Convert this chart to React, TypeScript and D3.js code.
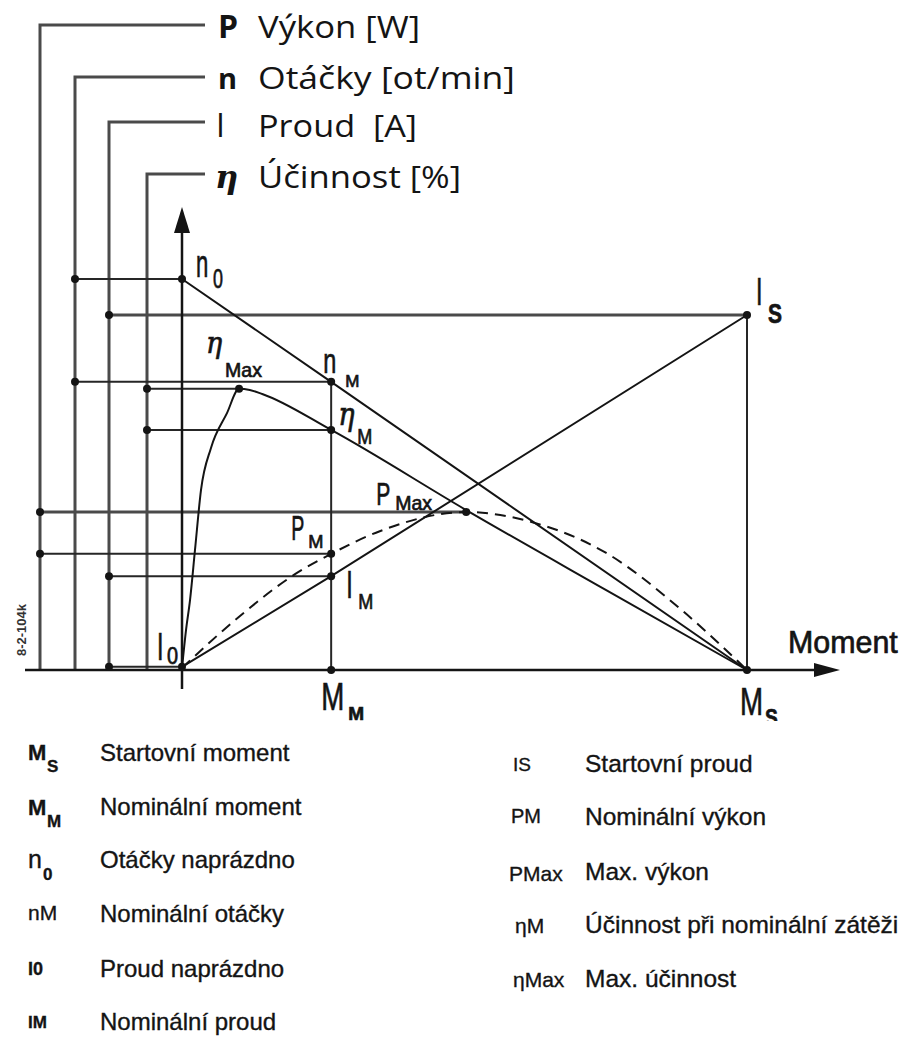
import React from "react";
import * as d3 from "d3";

// ---------- data (normalised units: moment 0..100, value 0..100) ----------
const M_NOM = 26.4;
const M_ETAMAX = 10.1;
const M_PMAX = 50.3;
const M_START = 100;

const N0 = 100;
const N_NOM = 73.7;
const I0 = 0.8;
const I_NOM = 24;
const I_START = 90.8;
const ETA_MAX = 71.9;
const ETA_NOM = 61.4;
const P_MAX = 40.4;
const P_NOM = 29.7;

const speedSeries: [number, number][] = [[0, N0], [M_NOM, N_NOM], [M_START, 0]];
const currentSeries: [number, number][] = [[0, I0], [M_NOM, I_NOM], [M_START, I_START]];
const etaSeries: [number, number][] = [
  [0, 0.5], [0.71, 10.2], [1.42, 17.9], [2.3, 30.7], [3.36, 46.0], [5.13, 56.8],
  [7.96, 65.7], [M_ETAMAX, ETA_MAX], [12.0, 71.6], [14.2, 70.6], [M_NOM, ETA_NOM],
  [50.3, 40.9], [75, 20.5], [M_START, 0],
];
const powerSeries: [number, number][] = [
  [0, 0.5], [10, 13.5], [20, 24.5], [M_NOM, P_NOM], [35, 35.5], [M_PMAX, P_MAX],
  [62, 37.8], [75, 30], [88.7, 15], [M_START, 0],
];

const topLegendKeys = ["P", "n", "I", "eta"];
const topLegendSymbols = ["P", "n", "I", "η"];
const topLegendTexts = ["Výkon [W]", "Otáčky [ot/min]", "Proud  [A]", "Účinnost [%]"];

const leftLegendDesc = [
  "Startovní moment", "Nominální moment", "Otáčky naprázdno",
  "Nominální otáčky", "Proud naprázdno", "Nominální proud",
];
const rightLegendDesc = [
  "Startovní proud", "Nominální výkon", "Max. výkon",
  "Účinnost při nominální zátěži", "Max. účinnost",
];

// ---------- layout ----------
const W = 901;
const H = 1037;
const X0 = 182;
const XS = 747;
const Y0 = 670;
const YTOP = 279;
const legendX: Record<string, number> = { P: 40, n: 75, I: 109, eta: 147 };
const legendTopY: Record<string, number> = { P: 25, n: 77, I: 122, eta: 174 };
const legendEndX = 205;
const legendBaselines = [38, 89, 137, 188];
const legendTextLen = [162, 257, 159, 203];

const SANS = "'Liberation Sans', Arial, sans-serif";
const CAL = "'Open Sans', 'Noto Sans', sans-serif";
const SERIF = "'DejaVu Serif', 'Liberation Serif', serif";
const INK = "#141414";
const GUIDE = "#4a4a4a";

const x = d3.scaleLinear().domain([0, 100]).range([X0, XS]);
const y = d3.scaleLinear().domain([0, 100]).range([Y0, YTOP]);

const straight = d3.line<[number, number]>().x((d) => x(d[0])).y((d) => y(d[1]));
const smooth = d3
  .line<[number, number]>()
  .x((d) => x(d[0]))
  .y((d) => y(d[1]))
  .curve(d3.curveMonotoneX);

type Part = { t: string; dx: number; dy: number; size: number; sx: number; w?: string; fam?: string; it?: boolean };

const Glyph = ({ px, py, p }: { px: number; py: number; p: Part }) => (
  <text
    transform={`translate(${px + p.dx},${py + p.dy}) scale(${p.sx},1)`}
    fontFamily={p.fam || SANS}
    fontSize={p.size}
    fontWeight={p.w || "normal"}
    fontStyle={p.it ? "italic" : "normal"}
    fill={INK}
    stroke={INK}
    strokeWidth={0.7}
  >
    {p.t}
  </text>
);

export default function App() {
  // reference levels: [legend axis, moment, value]
  const levels: [string, number, number][] = [
    ["n", 0, N0],
    ["I", M_START, I_START],
    ["n", M_NOM, N_NOM],
    ["eta", M_ETAMAX, ETA_MAX],
    ["eta", M_NOM, ETA_NOM],
    ["P", M_PMAX, P_MAX],
    ["P", M_NOM, P_NOM],
    ["I", M_NOM, I_NOM],
    ["I", 0, I0],
  ];

  const annotations: { at: [number, number]; parts: Part[] }[] = [
    { at: [0, N0], parts: [
      { t: "n", dx: 14, dy: -2, size: 38, sx: 0.58 },
      { t: "0", dx: 31, dy: 9, size: 28, sx: 0.64 },
    ] },
    { at: [M_ETAMAX, ETA_MAX], parts: [
      { t: "η", dx: -33, dy: -36, size: 30, sx: 0.9, fam: SERIF, it: true },
      { t: "Max", dx: -14, dy: -12, size: 21, sx: 0.93 },
    ] },
    { at: [M_NOM, N_NOM], parts: [
      { t: "n", dx: -8, dy: -9, size: 35, sx: 0.67 },
      { t: "M", dx: 14, dy: 5, size: 17, sx: 1 },
    ] },
    { at: [M_NOM, ETA_NOM], parts: [
      { t: "η", dx: 7, dy: -5, size: 32, sx: 0.85, fam: SERIF, it: true },
      { t: "M", dx: 26, dy: 14, size: 22, sx: 0.82 },
    ] },
    { at: [M_PMAX, P_MAX], parts: [
      { t: "P", dx: -90, dy: -7, size: 32, sx: 0.66 },
      { t: "Max", dx: -71, dy: -2, size: 21, sx: 0.93 },
    ] },
    { at: [M_NOM, P_NOM], parts: [
      { t: "P", dx: -40, dy: -14, size: 35, sx: 0.56 },
      { t: "M", dx: -23, dy: -6, size: 19, sx: 0.96 },
    ] },
    { at: [M_NOM, I_NOM], parts: [
      { t: "I", dx: 15, dy: 22, size: 39, sx: 0.6 },
      { t: "M", dx: 27, dy: 33, size: 22, sx: 0.82 },
    ] },
    { at: [0, I0], parts: [
      { t: "I", dx: -25, dy: -7, size: 39, sx: 0.6 },
      { t: "0", dx: -15, dy: -3, size: 24, sx: 0.83 },
    ] },
    { at: [M_NOM, 0], parts: [
      { t: "M", dx: -10, dy: 40, size: 39, sx: 0.71 },
      { t: "M", dx: 17, dy: 50, size: 19, sx: 1, w: "bold" },
    ] },
    { at: [M_START, 0], parts: [
      { t: "M", dx: -7, dy: 45, size: 39, sx: 0.71 },
      { t: "S", dx: 18, dy: 56, size: 24, sx: 0.8, w: "bold" },
    ] },
    { at: [M_START, I_START], parts: [
      { t: "I", dx: 9, dy: -10, size: 39, sx: 0.6 },
      { t: "S", dx: 21, dy: 8, size: 28, sx: 0.75, w: "bold" },
    ] },
  ];

  const dots: [number, number][] = [
    [x(0), y(N0)], [x(M_START), y(I_START)], [x(M_NOM), y(N_NOM)], [x(M_ETAMAX), y(ETA_MAX)],
    [x(M_NOM), y(ETA_NOM)], [x(M_PMAX), y(P_MAX)], [x(M_NOM), y(P_NOM)], [x(M_NOM), y(I_NOM)],
    [x(0), y(I0)], [x(M_NOM), y(0)], [x(M_START), y(0)],
  ];
  levels.forEach(([k, , v]) => dots.push([legendX[k], y(v)]));

  const leftSymRows = [761, 815, 868, 922, 977, 1030];
  const rightRows = [772, 825, 880, 933, 987];

  return (
    <svg
      width={W}
      height={H}
      viewBox={`0 0 ${W} ${H}`}
      style={{ position: "absolute", left: 0, top: 0, background: "#fff" }}
    >
      <defs>
        <clipPath id="chartClip">
          <rect x={0} y={0} width={W} height={721} />
        </clipPath>
      </defs>
      <rect x={0} y={0} width={W} height={H} fill="#fff" />

      <g clipPath="url(#chartClip)">
        {/* top legend brackets */}
        {topLegendKeys.map((k, i) => (
          <g key={k}>
            <path
              d={`M${legendX[k]},${Y0} V${legendTopY[k]} H${legendEndX}`}
              fill="none"
              stroke={GUIDE}
              strokeWidth={3}
            />
            <text
              x={k === "eta" ? 215 : k === "I" ? 216 : 218}
              y={legendBaselines[i]}
              fontFamily={k === "eta" ? SERIF : CAL}
              fontStyle={k === "eta" ? "italic" : "normal"}
              fontWeight={k === "I" ? "normal" : "bold"}
              fontSize={k === "n" ? 29 : 32}
              fill={INK}
            >
              {topLegendSymbols[i]}
            </text>
            <text
              x={258}
              y={legendBaselines[i]}
              fontFamily={CAL}
              fontSize={31}
              fill={INK}
              textLength={legendTextLen[i]}
              lengthAdjust="spacingAndGlyphs"
              style={{ whiteSpace: "pre" }}
            >
              {topLegendTexts[i]}
            </text>
          </g>
        ))}

        {/* reference levels */}
        {levels.map(([k, m, v], i) => (
          <line
            key={i}
            x1={legendX[k]}
            x2={x(m)}
            y1={y(v)}
            y2={y(v)}
            stroke={i === 1 || i === 5 ? GUIDE : "#262626"}
            strokeWidth={i === 1 || i === 5 ? 3 : 2}
          />
        ))}
        {/* verticals at nominal and start moment */}
        <line x1={x(M_NOM)} x2={x(M_NOM)} y1={y(0)} y2={y(N_NOM)} stroke="#262626" strokeWidth={2} />
        <line x1={x(M_START)} x2={x(M_START)} y1={y(0)} y2={y(I_START)} stroke="#262626" strokeWidth={2} />

        {/* axes */}
        <line x1={25} x2={820} y1={Y0} y2={Y0} stroke={INK} strokeWidth={2.5} />
        <path d={`M840,${Y0} L814,${Y0 - 7} L814,${Y0 + 7} Z`} fill={INK} />
        <line x1={X0} x2={X0} y1={689} y2={228} stroke={INK} strokeWidth={2.5} />
        <path d={`M${X0},207 L${X0 - 8},233 L${X0 + 8},233 Z`} fill={INK} />

        {/* curves */}
        <path d={straight(speedSeries) || ""} fill="none" stroke={INK} strokeWidth={2} />
        <path d={straight(currentSeries) || ""} fill="none" stroke={INK} strokeWidth={2} />
        <path d={smooth(etaSeries) || ""} fill="none" stroke={INK} strokeWidth={2} />
        <path
          d={smooth(powerSeries) || ""}
          fill="none"
          stroke={INK}
          strokeWidth={2}
          strokeDasharray="11,7"
        />

        {dots.map(([cx, cy], i) => (
          <circle key={i} cx={cx} cy={cy} r={4} fill={INK} />
        ))}

        {annotations.map((a, i) => (
          <g key={i}>
            {a.parts.map((p, j) => (
              <Glyph key={j} px={x(a.at[0])} py={y(a.at[1])} p={p} />
            ))}
          </g>
        ))}

        <text
          transform={`translate(788,653) scale(0.95,1)`}
          fontFamily={SANS}
          fontSize={32}
          fill={INK}
          stroke={INK}
          strokeWidth={0.7}
        >
          Moment
        </text>
        <text
          transform="translate(26,630) rotate(-90)"
          textAnchor="middle"
          fontFamily={SANS}
          fontSize={13}
          fontWeight="bold"
          fill="#333"
        >
          8-2-104k
        </text>
      </g>

      {/* bottom legend, left column */}
      <g fontFamily={SANS} fill={INK} stroke={INK} strokeWidth={0.35}>
        <text x={28} y={760} fontSize={22} fontWeight="bold">M</text>
        <text x={47} y={772} fontSize={17} fontWeight="bold">S</text>
        <text x={28} y={815} fontSize={22} fontWeight="bold">M</text>
        <text x={47} y={827} fontSize={17} fontWeight="bold">M</text>
        <text x={28} y={868} fontSize={25}>n</text>
        <text x={43} y={880} fontSize={17} fontWeight="bold">0</text>
        <text x={28} y={920} fontSize={21}>nM</text>
        <text x={28} y={975} fontSize={18} fontWeight="bold">I0</text>
        <text x={28} y={1028} fontSize={17} fontWeight="bold">IM</text>
        {leftLegendDesc.map((d, i) => (
          <text key={d} x={100} y={leftSymRows[i]} fontSize={24}>{d}</text>
        ))}

        {/* right column */}
        <text x={513} y={771} fontSize={19}>IS</text>
        <text x={511} y={823} fontSize={20}>PM</text>
        <text x={509} y={881} fontSize={21}>PMax</text>
        <text x={515} y={933} fontSize={21}>ηM</text>
        <text x={513} y={987} fontSize={21}>ηMax</text>
        {rightLegendDesc.map((d, i) => (
          <text key={d} x={585} y={rightRows[i]} fontSize={24.5}>{d}</text>
        ))}
      </g>
    </svg>
  );
}
